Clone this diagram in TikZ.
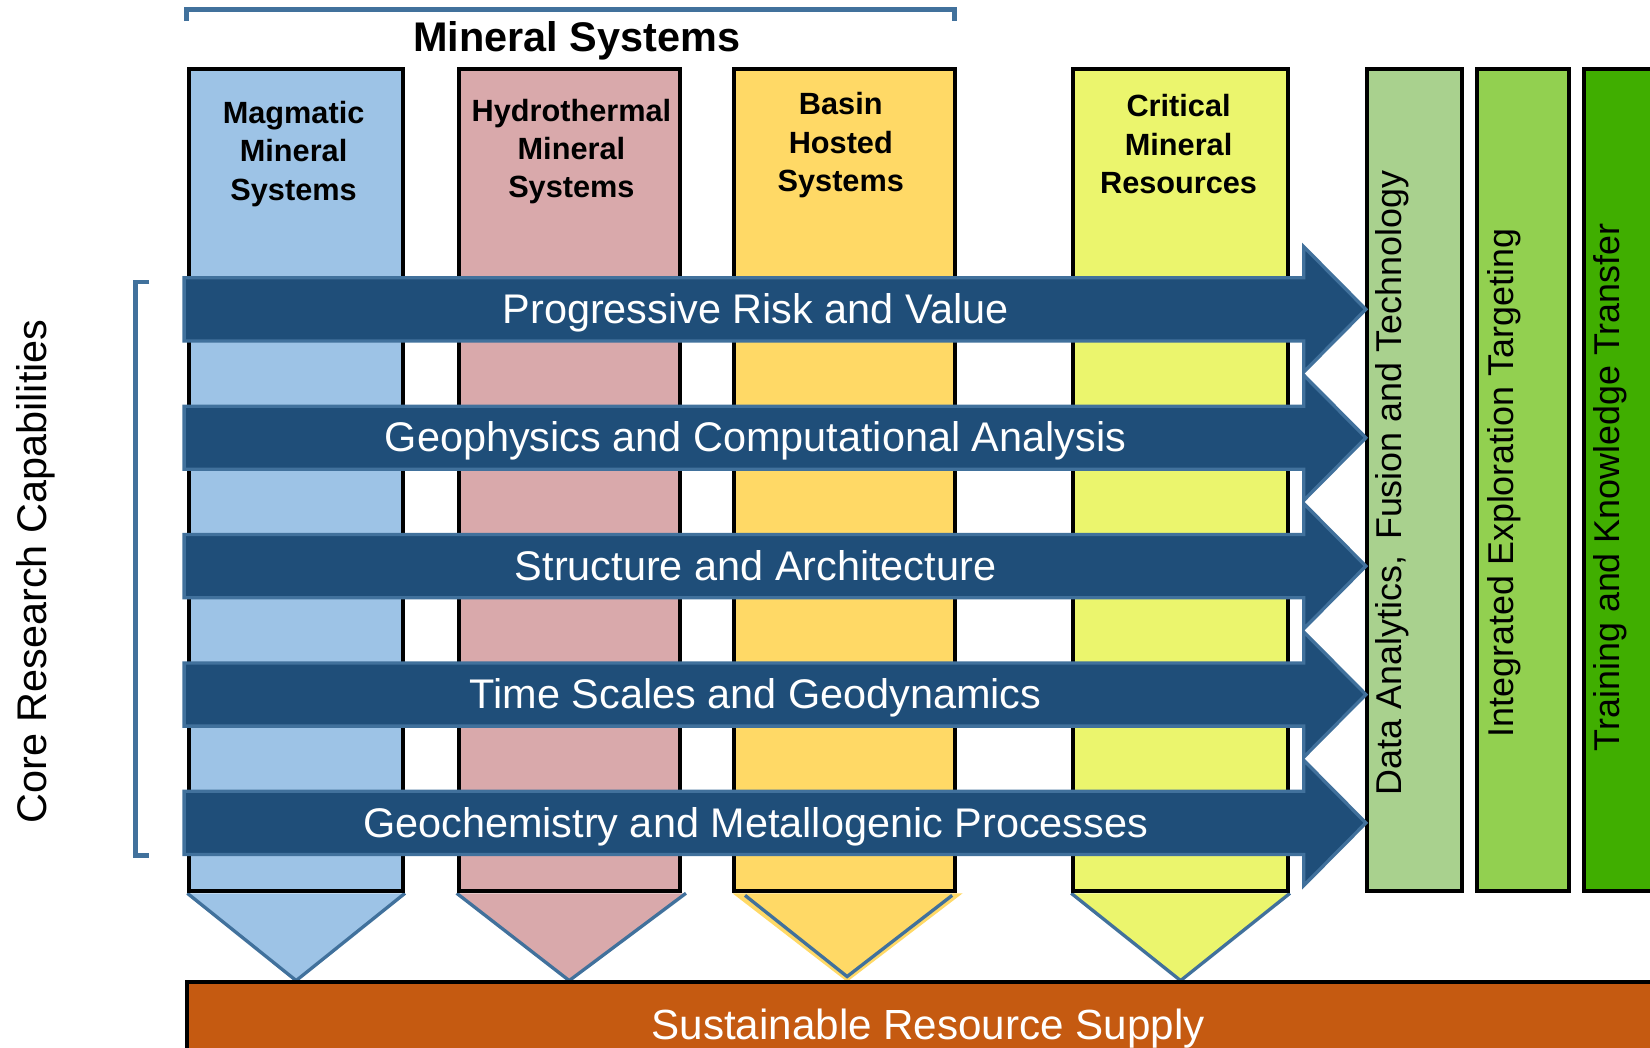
\documentclass[tikz,border=0pt]{standalone}
\usepackage{fontspec}
\setmainfont{Liberation Sans}
\usetikzlibrary{positioning, calc, backgrounds}
\definecolor{magblue}{HTML}{9DC3E6}
\definecolor{hydropink}{HTML}{D9A9AB}
\definecolor{basinyellow}{HTML}{FFD966}
\definecolor{crityellow}{HTML}{EBF56D}
\definecolor{datagreen}{HTML}{A9D18E}
\definecolor{integgreen}{HTML}{92D050}
\definecolor{traingreen}{HTML}{40AE00}
\definecolor{supplyorange}{HTML}{C55A11}
\definecolor{capblue}{HTML}{1F4E79}
\definecolor{edgeblue}{HTML}{41719C}

\begin{document}
\begin{tikzpicture}[
  x=0.1mm, y=-0.1mm,
  sysbox/.style={rectangle, draw=black, line width=1.1pt, anchor=north west, minimum height=78.1mm, inner sep=0pt},
  syslabel/.style={font=\fontsize{8.3}{10.4}\selectfont\bfseries, align=center, inner sep=0pt},
  caparrow/.style={fill=capblue, draw=edgeblue, line width=0.9pt, line join=miter},
  caplabel/.style={font=\fontsize{11.2}{13}\selectfont, text=white, anchor=base, inner sep=0pt},
  themelabel/.style={font=\fontsize{9.7}{11}\selectfont, rotate=90, anchor=base, inner sep=0pt},
  funnel/.style={draw=edgeblue, line width=0.9pt},
  groupline/.style={draw=edgeblue, line width=1.3pt}
]
  \useasboundingbox (0,0) rectangle (1568,995);
  \clip (0,0) rectangle (1568,995);

  % Mineral system columns
  \node[sysbox, fill=magblue, minimum width=20.3mm] (mag) at (178,64) {};
  \node[sysbox, fill=hydropink, minimum width=21mm] (hydro) at (434,64) {};
  \node[sysbox, fill=basinyellow, minimum width=21mm] (basin) at (696,64) {};
  \node[sysbox, fill=crityellow, minimum width=20.4mm] (crit) at (1018,64) {};

  \node[syslabel] (maglab) at (279,146) {Magmatic\\Mineral\\Systems};
  \node[syslabel] (hydrolab) at (543,144) {Hydrothermal\\Mineral\\Systems};
  \node[syslabel] (basinlab) at (799,138) {Basin\\Hosted\\Systems};
  \node[syslabel] (critlab) at (1120,137) {Critical\\Mineral\\Resources};

  % Funnels below the columns
  \begin{scope}[on background layer]
    \fill[magblue] (mag.south west) -- ($(mag.south)+(0,83)$) -- (mag.south east) -- cycle;
    \draw[funnel] (mag.south west) -- ($(mag.south)+(0,83)$) -- (mag.south east);
    \fill[hydropink] (hydro.south west) -- ($(hydro.south)+(0,83)$) -- ($(hydro.south east)+(4,0)$) -- cycle;
    \draw[funnel] (hydro.south west) -- ($(hydro.south)+(0,83)$) -- ($(hydro.south east)+(4,0)$);
    \fill[basinyellow] (basin.south west) -- (805,933) -- ($(basin.south east)+(5,0)$) -- cycle;
    \draw[funnel] ($(basin.south west)+(12,2)$) -- (805,928) -- ($(basin.south east)+(-5,2)$);
    \fill[crityellow] (crit.south west) -- ($(crit.south)+(0,83)$) -- (crit.south east) -- cycle;
    \draw[funnel] (crit.south west) -- ($(crit.south)+(0,83)$) -- (crit.south east);
  \end{scope}

  % Cross-cutting themes
  \node[sysbox, fill=datagreen, minimum width=9mm] (data) at (1297,64) {};
  \node[sysbox, fill=integgreen, minimum width=8.7mm] (integ) at (1402,64) {};
  \node[sysbox, fill=traingreen, minimum width=12mm] (train) at (1503,64) {};
  \node[themelabel] (datalab) at (1332,459) {Data Analytics,\, Fusion and Technology};
  \node[themelabel] (integlab) at (1438,459) {Integrated Exploration Targeting};
  \node[themelabel] (trainlab) at (1539,463) {Training and Knowledge Transfer};

  % Core research capability arrows
  \foreach \c/\txt [count=\i] in {294/Progressive Risk and Value,
      416/Geophysics and Computational Analysis,
      538/Structure and Architecture,
      660/Time Scales and Geodynamics,
      782/Geochemistry and Metallogenic Processes} {
    \draw[caparrow] (175,\c-30) -- (1239,\c-30) -- (1239,\c-59.5) -- (1298,\c)
      -- (1239,\c+59.5) -- (1239,\c+30) -- (175,\c+30) -- cycle;
    \node[caplabel] (cap\i) at (718,\c+13.5) {\txt};
  }

  % Outcome
  \node[rectangle, draw=black, line width=1.1pt, fill=supplyorange, anchor=north west,
    minimum width=145mm, minimum height=12mm] (supply) at (176,931) {};
  \node[caplabel, font=\fontsize{11.4}{13}\selectfont] (supplylab) at (882,988) {Sustainable Resource Supply};

  % Group brackets
  \draw[groupline] (177,20) -- (177,9) -- (907,9) -- (907,20);
  \node[anchor=base, inner sep=0pt, font=\fontsize{11.2}{13}\selectfont\bfseries] (mintitle) at (548,49) {Mineral Systems};
  \draw[groupline] (142,268) -- (129,268) -- (129,813) -- (142,813);
  \node[themelabel, font=\fontsize{11.2}{13}\selectfont] (corelab) at (44,543) {Core Research Capabilities};
\end{tikzpicture}
\end{document}
